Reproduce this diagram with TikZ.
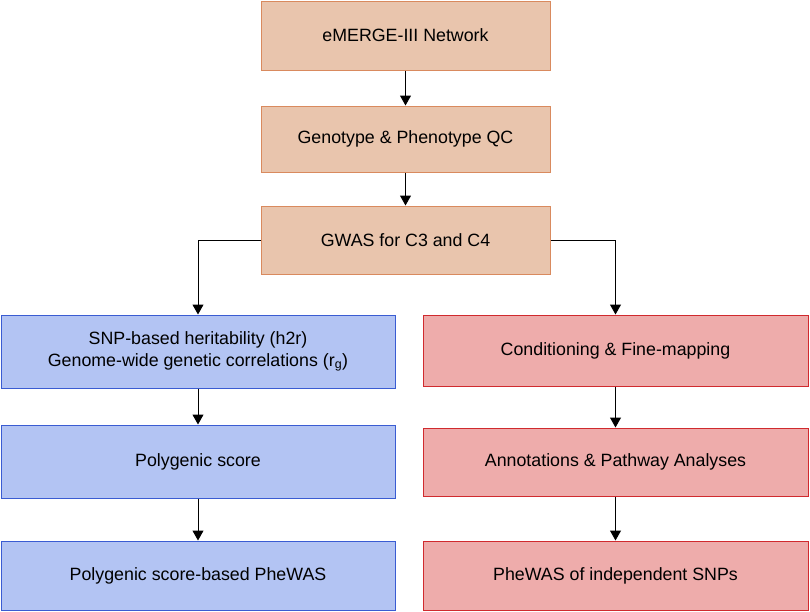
\documentclass[tikz,border=0pt]{standalone}
\usepackage{fontspec}
\setmainfont{Liberation Sans}
\usetikzlibrary{arrows.meta}

\definecolor{peachfill}{HTML}{E9C5AD}
\definecolor{peachline}{HTML}{D98A5E}
\definecolor{bluefill}{HTML}{B3C4F3}
\definecolor{blueline}{HTML}{3A5CD2}
\definecolor{redfill}{HTML}{EEACAB}
\definecolor{redline}{HTML}{D02A2E}

\tikzset{
	box/.style={draw,line width=1pt,align=center,inner sep=0pt,
		font=\fontsize{17.8}{21.5}\selectfont},
	topbox/.style={box,fill=peachfill,draw=peachline,minimum width=289pt},
	leftbox/.style={box,fill=bluefill,draw=blueline,minimum width=394pt},
	rightbox/.style={box,fill=redfill,draw=redline,minimum width=385pt},
	flow/.style={line width=1pt,-{Triangle[width=11pt,length=10pt]}}
}

\begin{document}
\begin{tikzpicture}[x=1pt,y=-1pt]
	\useasboundingbox (0,0) rectangle (810,611);
	% main line
	\node[topbox,minimum height=69pt] (net) at (405.5,35.5) {eMERGE-III Network};
	\node[topbox,minimum height=66pt] (qc) at (405.5,139) {Genotype \& Phenotype QC};
	\node[topbox,minimum height=68pt] (gwas) at (405.5,240) {GWAS for C3 and C4};
	% left branch
	\node[leftbox,minimum height=73pt] (herit) at (198,351.5)
		{SNP-based heritability (h2r)\\Genome-wide genetic correlations (r$_{\mathrm{g}}$)};
	\node[leftbox,minimum height=73pt] (pgs) at (198,461.5) {Polygenic score};
	\node[leftbox,minimum height=69pt] (pgsphewas) at (198,575.5) {Polygenic score-based PheWAS};
	% right branch
	\node[rightbox,minimum height=71pt] (cond) at (615.5,350.5) {Conditioning \& Fine-mapping};
	\node[rightbox,minimum height=68pt] (annot) at (615.5,462) {Annotations \& Pathway Analyses};
	\node[rightbox,minimum height=69pt] (snpphewas) at (615.5,575.5) {PheWAS of independent SNPs};

	\draw[flow] (net) -- (qc);
	\draw[flow] (qc) -- (gwas);
	\draw[flow] (gwas.west) -| (herit.north);
	\draw[flow] (gwas.east) -| (cond.north);
	\draw[flow] (herit) -- (pgs);
	\draw[flow] (pgs) -- (pgsphewas);
	\draw[flow] (cond) -- (annot);
	\draw[flow] (annot) -- (snpphewas);
\end{tikzpicture}
\end{document}
